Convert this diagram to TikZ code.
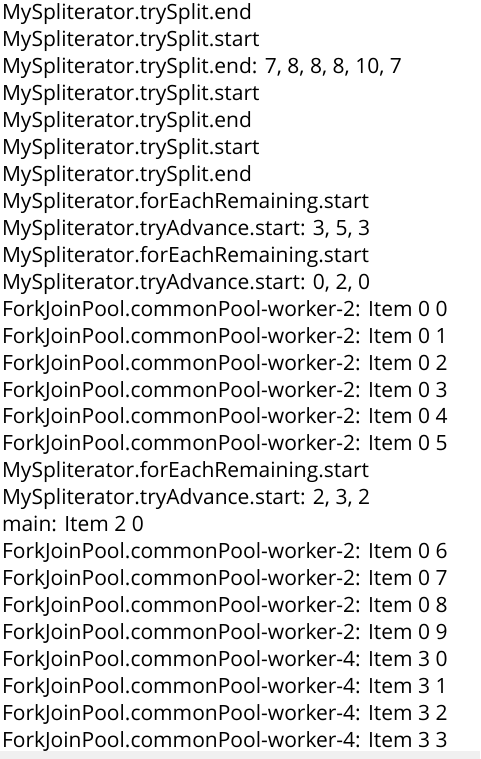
\documentclass[tikz,border=0pt]{standalone}
\usepackage{fontspec}
\setmainfont{Open Sans}
\begin{document}
\begin{tikzpicture}[x=1pt,y=-1pt,
  line/.style={anchor=base west,inner sep=0pt,outer sep=0pt,font=\fontsize{21}{21}\selectfont,text=black}]
\useasboundingbox (0,0) rectangle (480,759);
\fill[white] (0,0) rectangle (480,759);
\fill[black!6] (0,751) rectangle (480,759);
\foreach \t [count=\i from 0] in {
MySpliterator.trySplit.end,
MySpliterator.trySplit.start,
{MySpliterator.trySplit.end: 7, 8, 8, 8, 10, 7},
MySpliterator.trySplit.start,
MySpliterator.trySplit.end,
MySpliterator.trySplit.start,
MySpliterator.trySplit.end,
MySpliterator.forEachRemaining.start,
{MySpliterator.tryAdvance.start: 3, 5, 3},
MySpliterator.forEachRemaining.start,
{MySpliterator.tryAdvance.start: 0, 2, 0},
ForkJoinPool.commonPool-worker-2: Item 0 0,
ForkJoinPool.commonPool-worker-2: Item 0 1,
ForkJoinPool.commonPool-worker-2: Item 0 2,
ForkJoinPool.commonPool-worker-2: Item 0 3,
ForkJoinPool.commonPool-worker-2: Item 0 4,
ForkJoinPool.commonPool-worker-2: Item 0 5,
MySpliterator.forEachRemaining.start,
{MySpliterator.tryAdvance.start: 2, 3, 2},
main: Item 2 0,
ForkJoinPool.commonPool-worker-2: Item 0 6,
ForkJoinPool.commonPool-worker-2: Item 0 7,
ForkJoinPool.commonPool-worker-2: Item 0 8,
ForkJoinPool.commonPool-worker-2: Item 0 9,
ForkJoinPool.commonPool-worker-4: Item 3 0,
ForkJoinPool.commonPool-worker-4: Item 3 1,
ForkJoinPool.commonPool-worker-4: Item 3 2,
ForkJoinPool.commonPool-worker-4: Item 3 3}
{ \node[line] (l\i) at (2,{20+26.93*\i}) {\t}; }
\end{tikzpicture}
\end{document}
